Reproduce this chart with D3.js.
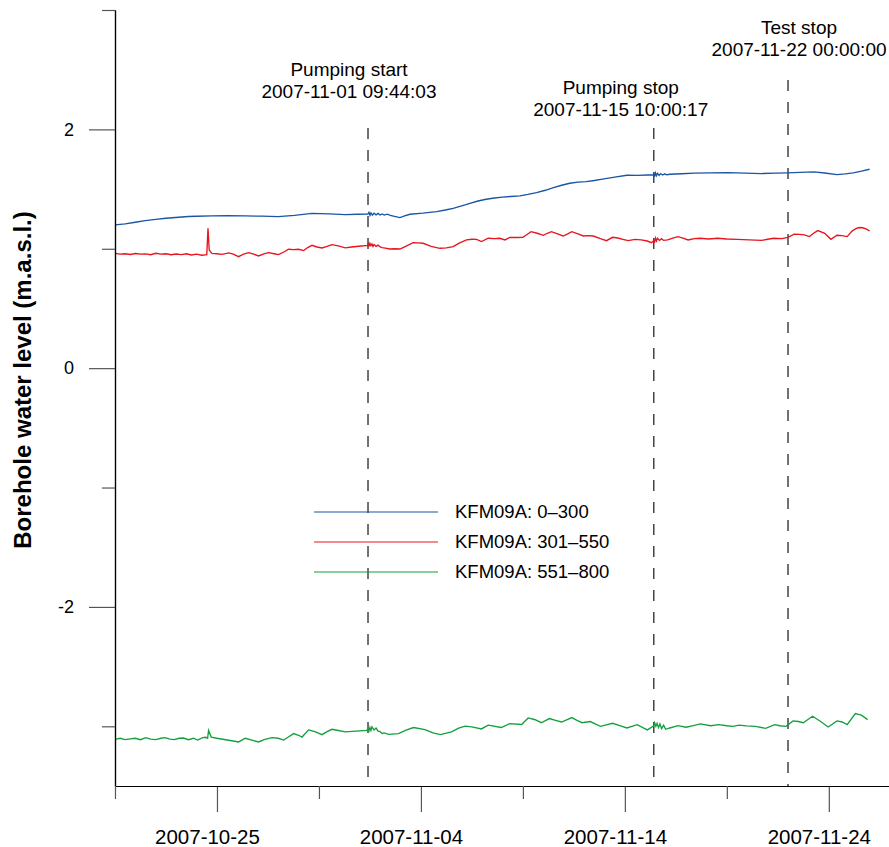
<!DOCTYPE html>
<html><head><meta charset="utf-8">
<script src="https://cdn.jsdelivr.net/npm/d3@7/dist/d3.min.js"></script>
<style>body{margin:0;background:#fff}svg{display:block}text{font-family:"Liberation Sans",Arial,sans-serif}</style>
</head><body><svg id="c" width="889" height="847"></svg>
<script>
// ---- data (day offsets from 2007-10-20 00:00, water level m.a.s.l.) ----
const seriesNames = ["KFM09A: 0\u2013300", "KFM09A: 301\u2013550", "KFM09A: 551\u2013800"];
const seriesColors = ["#1a55a6", "#e8141e", "#14a03c"];

const blueDays = [0,0.5,1.0,1.48,2.0,2.5,3.12,3.6,4.0,4.75,5.5,6.39,7.2,8.0,8.8,9.66,10.5,11.3,11.9,12.4,
  12.45,12.5,12.55,12.62,12.7,12.8,12.9,13.0,13.1,13.2,13.35,13.5,13.7,13.97,14.2,14.46,15.1,15.77,16.2,16.58,
  17.0,17.4,17.8,18.2,18.6,19.0,19.4,19.85,20.25,20.67,21.1,21.5,21.9,22.3,22.7,23.1,23.5,23.9,24.5,25.1,25.6,26.1,26.4,
  26.42,26.46,26.5,26.55,26.6,26.68,26.75,26.85,26.95,27.05,27.2,27.8,28.4,29.2,30.05,30.9,31.7,32.4,33.0,33.6,34.27,34.8,35.4,35.8,36.2,36.6,37.0];
const blueVals = [1.200,1.208,1.222,1.236,1.246,1.256,1.264,1.270,1.272,1.275,1.277,1.275,1.273,1.269,1.280,1.297,1.292,1.286,1.289,1.290,
  1.305,1.280,1.300,1.282,1.298,1.284,1.296,1.283,1.292,1.282,1.290,1.280,1.272,1.261,1.275,1.289,1.298,1.311,1.325,1.339,
  1.360,1.381,1.400,1.415,1.425,1.432,1.438,1.443,1.455,1.470,1.490,1.512,1.532,1.549,1.558,1.563,1.572,1.583,1.600,1.616,1.615,1.618,1.620,
  1.640,1.605,1.635,1.612,1.632,1.615,1.630,1.618,1.628,1.620,1.624,1.628,1.633,1.636,1.638,1.634,1.630,1.633,1.636,1.640,1.644,1.635,1.621,1.627,1.636,1.650,1.666];

const redDays = [0,0.25,0.5,0.75,1.0,1.25,1.5,1.75,2.0,2.25,2.5,2.75,3.0,3.25,3.5,3.75,4.0,4.25,4.5,4.56,4.62,4.75,5.0,5.25,5.57,5.8,
  6.06,6.3,6.55,6.8,7.04,7.3,7.53,7.8,8.02,8.3,8.51,8.75,9.0,9.25,9.45,9.66,9.9,10.15,10.4,10.64,10.95,11.29,11.6,11.95,12.2,12.4,
  12.42,12.46,12.5,12.55,12.6,12.65,12.7,12.8,12.9,13.0,13.1,13.25,13.48,13.7,13.97,14.3,14.62,14.85,15.11,15.5,15.93,16.25,16.58,16.9,
  17.24,17.5,17.73,17.97,18.3,18.6,18.87,19.12,19.36,19.7,20.0,20.2,20.4,20.7,21.0,21.2,21.4,21.7,21.97,22.2,22.4,22.7,22.96,23.2,23.45,
  23.8,24.1,24.4,24.65,24.9,25.16,25.5,25.8,26.1,26.3,26.42,26.45,26.5,26.55,26.6,26.7,26.8,26.9,27.1,27.35,27.6,27.85,28.1,28.4,28.7,
  29.1,29.56,30.0,30.5,31.1,31.7,32.0,32.3,32.7,33.0,33.3,33.55,33.8,34.05,34.25,34.46,34.8,35.1,35.4,35.65,35.9,36.15,36.4,36.55,36.7,36.85,37.0];
const redVals = [0.962,0.955,0.958,0.952,0.960,0.955,0.957,0.950,0.962,0.955,0.958,0.950,0.956,0.951,0.958,0.948,0.955,0.946,0.950,1.172,0.990,0.962,0.958,0.953,0.965,0.955,
  0.934,0.955,0.967,0.955,0.940,0.958,0.967,0.958,0.951,0.975,0.996,0.993,0.996,0.985,1.010,1.029,1.015,1.007,1.020,1.035,1.025,1.007,1.015,1.021,1.025,1.029,
  1.050,1.020,1.045,1.025,1.040,1.020,1.035,1.020,1.030,1.015,1.010,1.005,0.998,1.000,0.998,1.025,1.051,1.050,1.046,1.020,1.004,1.008,1.018,1.050,
  1.074,1.080,1.079,1.060,1.088,1.085,1.088,1.074,1.096,1.094,1.096,1.120,1.143,1.130,1.113,1.130,1.143,1.125,1.107,1.125,1.143,1.125,1.107,1.110,1.107,
  1.085,1.068,1.096,1.090,1.079,1.068,1.079,1.074,1.065,1.051,1.070,1.050,1.090,1.065,1.088,1.070,1.085,1.070,1.074,1.090,1.102,1.090,1.074,1.085,1.088,
  1.082,1.088,1.082,1.079,1.075,1.070,1.080,1.088,1.085,1.096,1.122,1.120,1.116,1.102,1.130,1.152,1.130,1.079,1.113,1.110,1.102,1.150,1.174,1.178,1.174,1.165,1.149];

const greenDays = [0,0.25,0.5,0.75,1.0,1.25,1.5,1.75,2.0,2.25,2.45,2.7,2.9,3.15,3.35,3.6,3.85,4.05,4.3,4.45,4.54,4.59,4.72,5.0,5.5,
  6.06,6.39,6.7,7.04,7.35,7.7,8.0,8.27,8.5,8.76,9.0,9.17,9.49,9.8,10.15,10.4,10.64,10.95,11.29,11.8,12.35,
  12.4,12.45,12.5,12.55,12.6,12.7,12.8,12.9,13.0,13.1,13.2,13.42,13.9,14.3,14.64,15.2,15.6,15.95,16.5,16.85,17.17,17.5,17.96,18.3,18.94,
  19.36,19.94,20.26,20.6,20.9,21.3,21.6,21.9,22.4,22.65,22.9,23.3,23.8,24.4,24.75,25.1,25.6,26.1,26.42,
  26.46,26.52,26.58,26.65,26.72,26.8,26.9,27.0,27.2,27.6,28.0,28.35,28.7,29.2,29.6,30.0,30.3,30.6,30.97,31.4,31.9,32.35,32.6,32.9,
  33.25,33.5,33.75,34.2,34.6,34.97,35.4,35.65,35.9,36.3,36.6,36.9];
const greenVals = [-3.109,-3.100,-3.112,-3.105,-3.100,-3.112,-3.095,-3.108,-3.112,-3.100,-3.095,-3.108,-3.112,-3.100,-3.098,-3.112,-3.100,-3.115,-3.095,-3.092,-3.100,-3.035,-3.090,-3.100,-3.115,
  -3.131,-3.100,-3.115,-3.131,-3.110,-3.095,-3.100,-3.115,-3.090,-3.061,-3.075,-3.090,-3.030,-3.045,-3.070,-3.045,-3.025,-3.035,-3.047,-3.040,-3.034,
  -3.020,-3.040,-3.010,-3.035,-3.005,-3.030,-3.015,-3.040,-3.045,-3.060,-3.055,-3.067,-3.061,-3.030,-3.010,-3.028,-3.055,-3.070,-3.047,-3.015,-2.998,-3.005,-3.022,-2.990,-3.010,
  -2.977,-2.985,-2.930,-2.945,-2.970,-2.935,-2.950,-2.964,-2.927,-2.950,-2.970,-2.960,-3.000,-2.975,-2.995,-3.014,-2.986,-3.030,-2.995,
  -2.970,-3.000,-2.975,-3.010,-2.980,-3.020,-2.990,-3.025,-3.014,-2.995,-3.008,-2.995,-2.980,-2.995,-2.986,-2.995,-3.000,-2.990,-2.997,-3.000,-3.017,-2.986,-2.995,-3.000,
  -2.955,-2.960,-2.970,-2.916,-2.960,-3.006,-2.955,-2.964,-2.986,-2.893,-2.907,-2.944];

const yMajorTicks = [-2, 0, 2];
const yMinorTicks = [-3, -1, 1, 3];
const xMajorTickLabels = ["2007-10-25", "2007-11-04", "2007-11-14", "2007-11-24"];
const xMinorTickLabels = ["2007-10-20", "2007-10-30", "2007-11-09", "2007-11-19"];
const eventTimes = ["2007-11-01T09:44:03Z", "2007-11-15T10:00:17Z", "2007-11-22T00:00:00Z"];
const eventTitles = ["Pumping start", "Pumping stop", "Test stop"];
const eventLabels = ["2007-11-01 09:44:03", "2007-11-15 10:00:17", "2007-11-22 00:00:00"];
const yTitle = "Borehole water level (m.a.s.l.)";

// ---- chart ----
const svg = d3.select("#c");
const t0 = Date.UTC(2007, 9, 20);
const toDate = d => new Date(t0 + d * 86400000);
const x = d3.scaleUtc().domain([new Date(t0), new Date(Date.UTC(2007, 10, 27))]).range([115, 890]);
const y = d3.scaleLinear().domain([-3.5, 3]).range([786, 10]);
const parseDay = s => new Date(s + "T00:00:00Z");

// event dashed lines
const evX = eventTimes.map(s => x(new Date(s)));
const evTop = [128, 128, 80];
svg.append("g").selectAll("line").data(evX).join("line")
  .attr("x1", d => d).attr("x2", d => d)
  .attr("y1", (d, i) => evTop[i]).attr("y2", y(-3.5))
  .attr("stroke", "#444").attr("stroke-width", 1.5).attr("stroke-dasharray", "11,11");

// series
const series = [
  {days: blueDays, vals: blueVals},
  {days: redDays, vals: redVals},
  {days: greenDays, vals: greenVals}
];
const line = d3.line().x(d => x(toDate(d[0]))).y(d => y(d[1]));
series.forEach((s, i) => {
  svg.append("path").datum(s.days.map((d, j) => [d, s.vals[j]]))
    .attr("d", line).attr("fill", "none").attr("stroke", seriesColors[i]).attr("stroke-width", 1.35);
});

// y axis
const yMaj = svg.append("g").attr("transform", "translate(115,0)")
  .call(d3.axisLeft(y).tickValues(yMajorTicks).tickSize(26).tickPadding(15).tickSizeOuter(0).tickFormat(d => String(d)));
const yMin = svg.append("g").attr("transform", "translate(115,0)")
  .call(d3.axisLeft(y).tickValues(yMinorTicks).tickSize(13).tickSizeOuter(0).tickFormat(""));
[yMaj, yMin].forEach(g => {
  g.select(".domain").attr("stroke", "#000").attr("stroke-width", 1.2);
  g.selectAll(".tick line").attr("stroke", "#555").attr("stroke-width", 1.2);
});
yMaj.selectAll("text").attr("font-size", 18).attr("fill", "#000").style("font-family", "Liberation Sans, Arial, sans-serif");

// x axis
const xMaj = svg.append("g").attr("transform", "translate(0,786)")
  .call(d3.axisBottom(x).tickValues(xMajorTickLabels.map(parseDay)).tickSize(26).tickSizeOuter(0).tickFormat(d3.utcFormat("%Y-%m-%d")));
const xMin = svg.append("g").attr("transform", "translate(0,786)")
  .call(d3.axisBottom(x).tickValues(xMinorTickLabels.map(parseDay)).tickSize(13).tickSizeOuter(0).tickFormat(""));
[xMaj, xMin].forEach(g => {
  g.select(".domain").attr("stroke", "#000").attr("stroke-width", 1.2);
  g.selectAll(".tick line").attr("stroke", "#555").attr("stroke-width", 1.2);
});
xMaj.selectAll("text").attr("y", 0).attr("dy", 0).attr("transform", "translate(-10,58)")
  .attr("font-size", 20.5).attr("fill", "#000").style("font-family", "Liberation Sans, Arial, sans-serif");

// y title
svg.append("text").attr("transform", "translate(31,380) rotate(-90)")
  .attr("text-anchor", "middle").attr("font-size", 24).attr("font-weight", "bold").text(yTitle);

// event annotations
const annDx = [-19, -33, 11];
const annY = [76, 94, 34];
eventTitles.forEach((t, i) => {
  const g = svg.append("g").attr("text-anchor", "middle").attr("font-size", 19);
  g.append("text").attr("x", evX[i] + annDx[i]).attr("y", annY[i]).text(t);
  g.append("text").attr("x", evX[i] + annDx[i]).attr("y", annY[i] + 21.5).text(eventLabels[i]);
});

// legend
const legY = [512, 542, 572];
seriesNames.forEach((n, i) => {
  svg.append("line").attr("x1", 314).attr("x2", 438).attr("y1", legY[i]).attr("y2", legY[i])
    .attr("stroke", seriesColors[i]).attr("stroke-width", 1.1);
  svg.append("text").attr("x", 455).attr("y", legY[i]).attr("dy", "0.35em").attr("font-size", 18.5).text(n);
});
</script></body></html>
